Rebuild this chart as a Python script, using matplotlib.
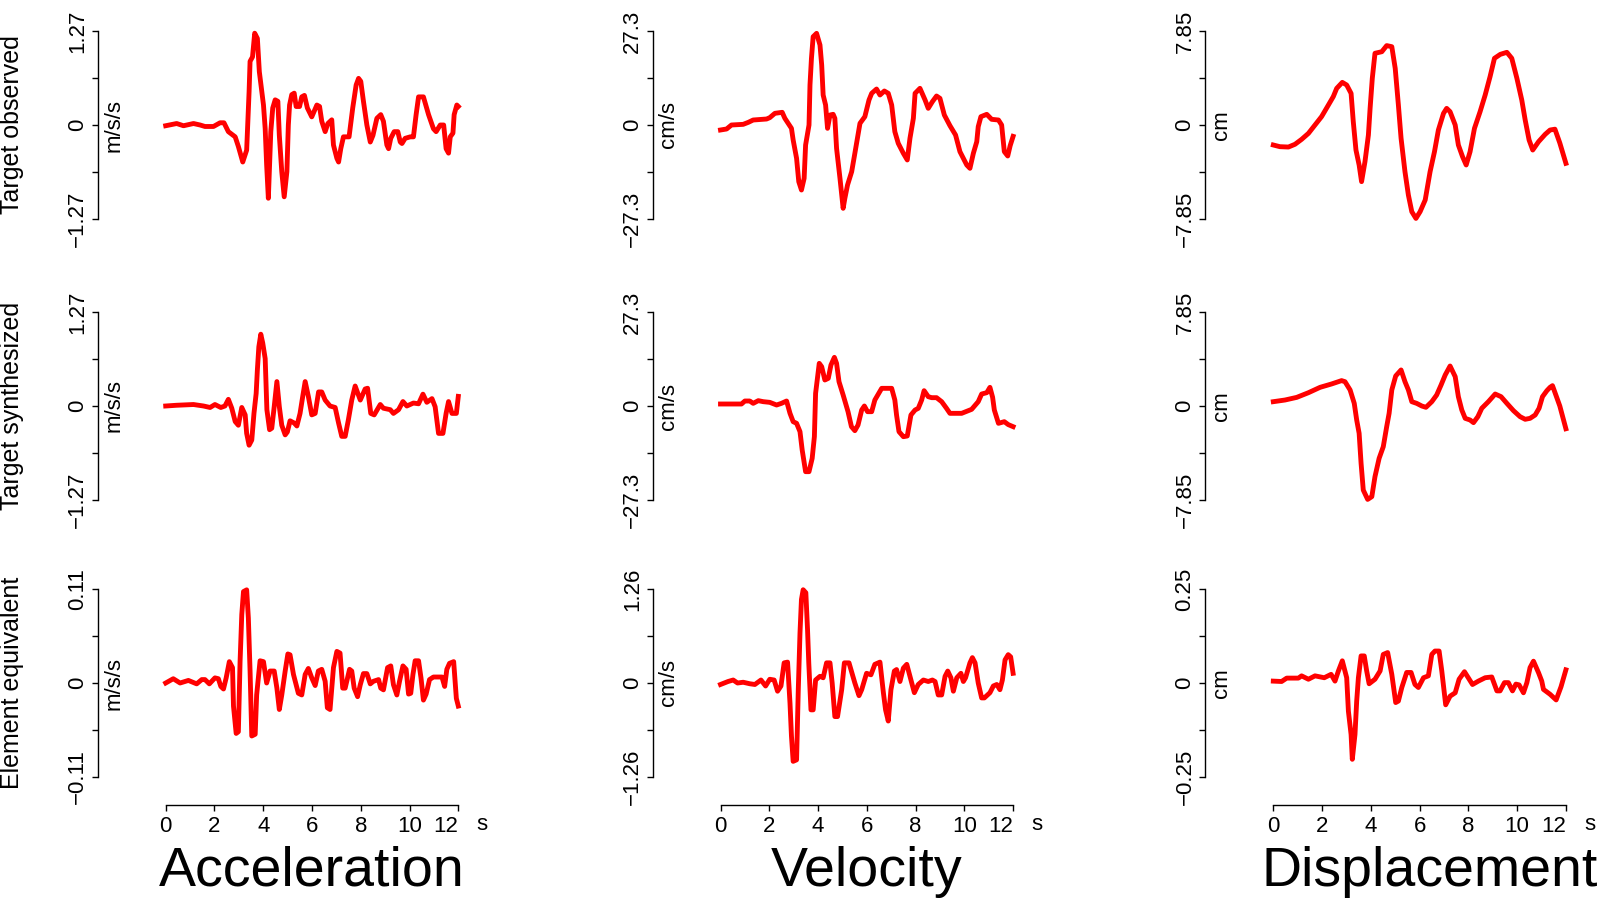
import matplotlib.pyplot as plt
import numpy as np

plt.rcParams['font.family'] = ['Liberation Sans', 'DejaVu Sans']

# traces: (time in s, value in the panel unit)
acc_obs = [(0.0, -0.01), (0.45, 0.02), (0.73, -0.01), (1.14, 0.02), (1.41, 0.0), (1.61, -0.02),
           (1.96, -0.02), (2.23, 0.03), (2.39, 0.03), (2.57, -0.09), (2.85, -0.16), (2.98, -0.29),
           (3.16, -0.50), (3.32, -0.34), (3.42, 0.45), (3.46, 0.86), (3.56, 0.92), (3.65, 1.24),
           (3.76, 1.17), (3.84, 0.72), (4.01, 0.27), (4.08, -0.05), (4.14, -0.54), (4.21, -0.99),
           (4.31, -0.09), (4.39, 0.23), (4.49, 0.34), (4.60, 0.32), (4.66, -0.14), (4.76, -0.63),
           (4.86, -0.97), (4.97, -0.63), (5.03, 0.0), (5.08, 0.27), (5.17, 0.41), (5.27, 0.43),
           (5.35, 0.25), (5.49, 0.25), (5.58, 0.38), (5.69, 0.40), (5.81, 0.23), (5.99, 0.11),
           (6.20, 0.27), (6.31, 0.25), (6.40, 0.05), (6.54, -0.09), (6.65, 0.02), (6.81, 0.07),
           (6.88, -0.27), (7.02, -0.45), (7.09, -0.50), (7.18, -0.32), (7.29, -0.16), (7.52, -0.16),
           (7.67, 0.23), (7.81, 0.54), (7.91, 0.63), (8.00, 0.59), (8.11, 0.32), (8.25, 0.0),
           (8.39, -0.23), (8.50, -0.14), (8.66, 0.09), (8.82, 0.14), (8.93, 0.05), (9.07, -0.27),
           (9.14, -0.32), (9.23, -0.18), (9.37, -0.09), (9.52, -0.09), (9.62, -0.23), (9.69, -0.25),
           (9.82, -0.18), (10.03, -0.16), (10.16, -0.16), (10.27, 0.14), (10.37, 0.38), (10.57, 0.38),
           (10.78, 0.14), (10.98, -0.05), (11.09, -0.09), (11.26, 0.0), (11.40, 0.0), (11.50, -0.32),
           (11.60, -0.38), (11.67, -0.16), (11.78, -0.11), (11.83, 0.14), (11.94, 0.27), (12.0, 0.25)]

vel_obs = [(0.0, -1.45), (0.25, -1.16), (0.45, 0.0), (0.93, 0.19), (1.14, 0.77), (1.34, 1.45),
           (1.89, 1.74), (2.02, 2.13), (2.23, 3.39), (2.53, 3.68), (2.64, 1.94), (2.91, -0.97),
           (2.98, -4.36), (3.12, -9.68), (3.21, -16.46), (3.32, -18.88), (3.43, -15.49), (3.49, -5.81),
           (3.63, 0.0), (3.67, 11.62), (3.73, 19.36), (3.80, 25.65), (3.94, 26.62), (4.08, 23.23),
           (4.15, 17.42), (4.21, 8.71), (4.31, 5.81), (4.39, -0.97), (4.49, 2.90), (4.62, 3.10),
           (4.69, 1.94), (4.76, -6.78), (4.90, -15.49), (5.03, -24.20), (5.10, -21.30), (5.21, -17.42),
           (5.38, -13.55), (5.51, -8.23), (5.72, 0.48), (5.92, 2.42), (6.09, 7.26), (6.20, 9.20),
           (6.40, 10.45), (6.54, 8.71), (6.72, 9.87), (6.88, 9.20), (7.02, 5.81), (7.15, -1.94),
           (7.29, -5.32), (7.50, -8.23), (7.66, -10.16), (7.77, -3.87), (7.91, 1.94), (7.98, 9.20),
           (8.18, 10.65), (8.39, 7.26), (8.52, 4.84), (8.69, 6.78), (8.86, 8.42), (9.00, 7.74),
           (9.18, 2.90), (9.41, -0.19), (9.64, -2.90), (9.82, -7.74), (10.10, -11.62), (10.23, -12.58),
           (10.37, -8.23), (10.51, -4.84), (10.57, -0.48), (10.68, 2.42), (10.92, 3.10), (11.12, 1.65),
           (11.40, 1.45), (11.53, 0.0), (11.64, -7.74), (11.78, -9.0), (11.88, -6.0), (12.0, -3.3)]

disp_obs = [(0.0, -1.67), (0.27, -1.81), (0.62, -1.84), (0.89, -1.61), (1.16, -1.20), (1.44, -0.70),
            (1.71, 0.0), (1.98, 0.70), (2.26, 1.67), (2.46, 2.37), (2.60, 3.06), (2.83, 3.56),
            (3.01, 3.34), (3.19, 2.64), (3.28, 0.28), (3.39, -2.09), (3.52, -3.34), (3.62, -4.73),
            (3.76, -3.06), (3.90, -0.84), (3.97, 1.39), (4.06, 3.90), (4.17, 5.99), (4.45, 6.12),
            (4.65, 6.63), (4.86, 6.54), (5.00, 4.73), (5.13, 1.67), (5.24, -1.11), (5.40, -3.90),
            (5.54, -5.85), (5.68, -7.24), (5.85, -7.80), (6.02, -7.24), (6.23, -6.26), (6.43, -3.90),
            (6.61, -2.23), (6.77, -0.42), (6.98, 0.97), (7.11, 1.39), (7.25, 1.11), (7.46, 0.0),
            (7.59, -1.67), (7.76, -2.64), (7.91, -3.34), (8.07, -2.23), (8.25, -0.28), (8.48, 1.11),
            (8.69, 2.51), (8.89, 4.04), (9.07, 5.57), (9.31, 5.90), (9.58, 6.07), (9.78, 5.57),
            (9.99, 3.90), (10.19, 2.09), (10.33, 0.42), (10.49, -1.25), (10.64, -2.09), (10.88, -1.39),
            (11.15, -0.78), (11.35, -0.42), (11.55, -0.35), (11.75, -1.5), (12.0, -3.2)]

acc_syn = [(0.0, 0.0), (0.45, 0.01), (1.14, 0.02), (1.55, 0.0), (1.82, -0.02), (2.02, 0.02),
           (2.26, -0.02), (2.43, 0.0), (2.57, 0.09), (2.71, -0.03), (2.85, -0.21), (2.98, -0.26),
           (3.12, -0.02), (3.26, -0.12), (3.32, -0.37), (3.42, -0.53), (3.53, -0.46), (3.62, -0.10),
           (3.71, 0.17), (3.76, 0.49), (3.82, 0.80), (3.90, 0.97), (3.98, 0.85), (4.08, 0.64),
           (4.15, -0.05), (4.26, -0.32), (4.35, -0.30), (4.45, -0.01), (4.56, 0.33), (4.66, -0.01),
           (4.76, -0.26), (4.90, -0.39), (4.99, -0.35), (5.10, -0.20), (5.27, -0.23), (5.38, -0.27),
           (5.51, -0.10), (5.62, 0.13), (5.72, 0.33), (5.85, 0.13), (5.99, -0.12), (6.13, -0.10),
           (6.27, 0.19), (6.40, 0.19), (6.54, 0.08), (6.74, 0.0), (6.95, -0.02), (7.09, -0.23),
           (7.22, -0.41), (7.36, -0.41), (7.49, -0.19), (7.63, 0.08), (7.77, 0.27), (7.98, 0.08),
           (8.18, 0.23), (8.28, 0.24), (8.41, -0.10), (8.55, -0.12), (8.80, 0.02), (8.93, -0.03),
           (9.21, -0.05), (9.34, -0.10), (9.55, -0.05), (9.73, 0.06), (9.89, 0.0), (10.16, 0.04),
           (10.37, 0.03), (10.55, 0.16), (10.71, 0.05), (10.92, 0.10), (11.05, -0.01), (11.19, -0.37),
           (11.37, -0.37), (11.50, -0.10), (11.60, 0.06), (11.74, -0.10), (11.92, -0.10), (12.0, 0.13)]

vel_syn = [(0.0, 0.58), (0.86, 0.58), (1.00, 1.45), (1.20, 1.45), (1.34, 0.77), (1.55, 1.55),
           (1.75, 1.26), (2.02, 1.06), (2.30, 0.29), (2.50, 0.77), (2.71, 1.45), (2.85, -2.13),
           (2.98, -4.55), (3.12, -5.03), (3.26, -7.45), (3.35, -12.78), (3.49, -19.07), (3.63, -19.07),
           (3.76, -15.20), (3.85, -8.91), (3.90, 3.68), (3.95, 6.58), (4.05, 12.39), (4.15, 11.42),
           (4.28, 7.55), (4.42, 8.03), (4.53, 11.91), (4.67, 14.13), (4.76, 12.39), (4.86, 7.07),
           (5.03, 3.19), (5.23, -1.65), (5.37, -6.00), (5.51, -7.16), (5.64, -5.52), (5.79, -1.16),
           (5.90, 0.0), (6.03, -1.65), (6.20, -1.65), (6.33, 1.74), (6.61, 5.13), (7.02, 5.13),
           (7.15, 1.74), (7.22, -2.61), (7.32, -7.45), (7.50, -8.91), (7.66, -8.71), (7.81, -2.61),
           (7.98, -1.16), (8.11, -0.68), (8.25, 1.74), (8.35, 4.45), (8.52, 2.71), (8.66, 2.42),
           (8.86, 2.42), (9.07, 1.26), (9.27, -0.68), (9.41, -2.13), (9.89, -2.13), (10.30, -0.97),
           (10.57, 1.26), (10.71, 3.48), (10.92, 3.87), (11.05, 5.42), (11.16, 2.52), (11.23, -1.16),
           (11.40, -5.03), (11.64, -4.55), (11.80, -5.4), (12.0, -6.0)]

disp_syn = [(0.0, 0.36), (0.48, 0.50), (0.96, 0.72), (1.44, 1.11), (1.92, 1.56), (2.39, 1.84),
            (2.80, 2.12), (2.94, 2.03), (3.15, 1.34), (3.32, 0.22), (3.42, -1.17), (3.52, -2.28),
            (3.60, -4.79), (3.69, -7.02), (3.87, -7.80), (4.04, -7.57), (4.17, -5.90), (4.34, -4.37),
            (4.51, -3.40), (4.65, -1.73), (4.75, -0.61), (4.86, 1.34), (5.02, 2.51), (5.24, 3.01),
            (5.40, 2.03), (5.54, 1.34), (5.68, 0.36), (5.88, 0.22), (6.09, 0.0), (6.26, -0.11),
            (6.50, 0.36), (6.70, 0.92), (6.88, 1.75), (7.05, 2.59), (7.25, 3.34), (7.46, 2.45),
            (7.59, 0.78), (7.73, -0.33), (7.87, -1.03), (8.07, -1.17), (8.21, -1.39), (8.39, -0.89),
            (8.55, -0.19), (8.82, 0.36), (9.10, 1.00), (9.34, 0.78), (9.58, 0.22), (9.85, -0.39),
            (10.12, -0.89), (10.33, -1.11), (10.53, -1.03), (10.74, -0.75), (10.90, -0.19),
            (11.04, 0.78), (11.22, 1.28), (11.35, 1.56), (11.45, 1.7), (11.75, 0.0), (12.0, -1.9)]

acc_elem = [(0.0, 0.0), (0.31, 0.005), (0.59, 0.0), (0.93, 0.003), (1.27, -0.001), (1.48, 0.004),
            (1.61, 0.004), (1.79, -0.001), (2.02, 0.006), (2.16, 0.005), (2.26, -0.004), (2.37, -0.007),
            (2.48, 0.006), (2.61, 0.025), (2.74, 0.018), (2.78, -0.027), (2.89, -0.059), (2.98, -0.057),
            (3.05, 0.025), (3.12, 0.080), (3.19, 0.107), (3.32, 0.109), (3.39, 0.076), (3.46, 0.014),
            (3.53, -0.062), (3.67, -0.060), (3.73, -0.014), (3.87, 0.026), (4.01, 0.025), (4.14, 0.0),
            (4.28, 0.014), (4.45, 0.014), (4.56, -0.006), (4.66, -0.031), (4.76, -0.014), (4.90, 0.014),
            (5.01, 0.034), (5.10, 0.033), (5.24, 0.010), (5.44, -0.012), (5.58, -0.014), (5.72, 0.010),
            (5.85, 0.017), (5.99, 0.006), (6.13, -0.003), (6.26, 0.014), (6.40, 0.016), (6.54, 0.002),
            (6.63, -0.029), (6.74, -0.031), (6.88, 0.018), (7.02, 0.037), (7.15, 0.035), (7.26, -0.006),
            (7.36, -0.006), (7.54, 0.016), (7.63, 0.014), (7.73, -0.006), (7.87, -0.016), (7.98, -0.002),
            (8.11, 0.011), (8.25, 0.011), (8.39, -0.001), (8.52, 0.002), (8.73, 0.004), (8.82, -0.006),
            (8.93, -0.008), (9.10, 0.018), (9.23, 0.020), (9.34, -0.002), (9.48, -0.014), (9.59, 0.002),
            (9.73, 0.020), (9.86, 0.016), (9.96, -0.013), (10.05, -0.012), (10.14, 0.010), (10.23, 0.026),
            (10.37, 0.026), (10.47, 0.006), (10.57, -0.020), (10.68, -0.013), (10.82, 0.004),
            (10.98, 0.007), (11.33, 0.007), (11.44, -0.004), (11.53, 0.016), (11.64, 0.023),
            (11.81, 0.025), (11.92, -0.018), (12.0, -0.027)]

vel_elem = [(0.0, -0.02), (0.31, 0.02), (0.52, 0.04), (0.70, 0.0), (0.93, 0.01), (1.20, -0.01),
            (1.41, -0.02), (1.66, 0.04), (1.85, -0.04), (2.02, 0.05), (2.20, 0.04), (2.34, -0.11),
            (2.48, -0.04), (2.61, 0.27), (2.75, 0.28), (2.85, -0.27), (2.91, -0.71), (2.98, -1.05),
            (3.12, -1.03), (3.19, -0.09), (3.26, 0.67), (3.32, 1.12), (3.39, 1.25), (3.50, 1.21),
            (3.57, 0.71), (3.62, 0.27), (3.71, -0.36), (3.80, -0.36), (3.90, 0.04), (4.08, 0.09),
            (4.21, 0.07), (4.35, 0.27), (4.49, 0.27), (4.58, 0.0), (4.69, -0.45), (4.80, -0.45),
            (4.97, -0.09), (5.08, 0.27), (5.27, 0.27), (5.51, 0.0), (5.68, -0.17), (5.79, -0.09),
            (5.99, 0.13), (6.17, 0.11), (6.33, 0.25), (6.54, 0.28), (6.68, -0.13), (6.77, -0.36),
            (6.88, -0.51), (6.99, -0.09), (7.13, 0.16), (7.22, 0.18), (7.36, 0.02), (7.50, 0.20),
            (7.64, 0.25), (7.77, 0.09), (7.95, -0.13), (8.11, -0.02), (8.32, 0.04), (8.52, 0.02),
            (8.69, 0.04), (8.80, 0.02), (8.93, -0.16), (9.07, -0.16), (9.21, 0.09), (9.32, 0.16),
            (9.45, 0.07), (9.55, -0.11), (9.69, 0.07), (9.86, 0.13), (9.96, 0.02), (10.05, 0.07),
            (10.23, 0.27), (10.33, 0.34), (10.44, 0.27), (10.57, 0.0), (10.71, -0.20), (10.82, -0.20),
            (11.05, -0.13), (11.19, -0.04), (11.33, -0.02), (11.46, -0.09), (11.56, 0.04), (11.67, 0.31),
            (11.80, 0.38), (11.90, 0.35), (12.0, 0.13)]

disp_elem = [(0.0, 0.005), (0.34, 0.004), (0.55, 0.013), (1.03, 0.013), (1.16, 0.019), (1.44, 0.010),
             (1.71, 0.019), (2.09, 0.014), (2.37, 0.023), (2.53, 0.005), (2.67, 0.032), (2.83, 0.059),
             (3.01, 0.014), (3.08, -0.075), (3.19, -0.137), (3.24, -0.203), (3.35, -0.137), (3.42, -0.048),
             (3.49, 0.014), (3.60, 0.072), (3.73, 0.072), (3.83, 0.032), (3.93, -0.002), (4.17, 0.010),
             (4.38, 0.032), (4.51, 0.076), (4.69, 0.081), (4.86, 0.023), (5.02, -0.052), (5.13, -0.048),
             (5.27, -0.012), (5.47, 0.028), (5.65, 0.028), (5.81, -0.004), (5.95, -0.012), (6.16, 0.014),
             (6.36, 0.019), (6.50, 0.076), (6.63, 0.085), (6.80, 0.085), (6.91, 0.032), (7.07, -0.058),
             (7.25, -0.035), (7.46, -0.026), (7.62, 0.010), (7.84, 0.030), (8.17, -0.004), (8.41, 0.005),
             (8.69, 0.014), (8.96, 0.016), (9.17, -0.021), (9.30, -0.021), (9.48, 0.001), (9.64, 0.001),
             (9.81, -0.021), (9.95, -0.003), (10.08, -0.005), (10.26, -0.026), (10.40, 0.001),
             (10.53, 0.041), (10.67, 0.058), (10.88, 0.027), (11.01, 0.005), (11.08, -0.017),
             (11.35, -0.030), (11.60, -0.045), (11.80, -0.01), (12.0, 0.035)]

row_names = ["Target observed", "Target synthesized", "Element equivalent"]
col_names = ["Acceleration", "Velocity", "Displacement"]
units = ["m/s/s", "cm/s", "cm"]
# half range of each y axis (rows x columns) and how it is printed
y_max = [[1.27, 27.3, 7.85], [1.27, 27.3, 7.85], [0.11, 1.26, 0.25]]
y_max_txt = [["1.27", "27.3", "7.85"], ["1.27", "27.3", "7.85"], ["0.11", "1.26", "0.25"]]
x_ticks = [0, 2, 4, 6, 8, 10, 12]

traces = [[acc_obs, vel_obs, disp_obs],
          [acc_syn, vel_syn, disp_syn],
          [acc_elem, vel_elem, disp_elem]]

W, H = 1600, 900
px = 72 / 100  # points per pixel at dpi 100

# panel geometry in pixels
col_x0 = [165.7, 720.5, 1273.3]
col_w = 292.6
row_zero = [125, 406, 683]
half_h = 94
spine_off = 68
title_shift = [0, 0, 10]

fig = plt.figure(figsize=(16, 9), dpi=100)

for r in range(3):
    for c in range(3):
        ax = fig.add_axes([col_x0[c] / W, 1 - (row_zero[r] + half_h) / H,
                           col_w / W, 2 * half_h / H])
        ax.patch.set_visible(False)
        t, v = np.array(traces[r][c]).T
        ax.plot(t, v, color='#ff0000', lw=3.5, clip_on=False, solid_joinstyle='round')

        m = y_max[r][c]
        ax.set_xlim(0, 12)
        ax.set_ylim(-m, m)
        for s in ['top', 'right']:
            ax.spines[s].set_visible(False)
        ax.spines['left'].set_position(('outward', spine_off * px))
        ax.spines['left'].set_linewidth(1.0)

        ax.set_yticks([-m, 0, m])
        ax.set_yticklabels(['\u2212' + y_max_txt[r][c], '0', y_max_txt[r][c]],
                           rotation=90, va='center')
        ax.set_yticks([-m / 2, m / 2], minor=True)
        ax.tick_params(axis='y', which='both', direction='out', length=4.5, width=1.0,
                       labelsize=16, pad=2.5)

        ax.annotate(units[c], xy=(0, 0), xycoords=('axes fraction', 'data'),
                    xytext=(-52 * px, 0), textcoords='offset points',
                    rotation=90, ha='center', va='center', fontsize=16)

        if r == 2:
            ax.spines['bottom'].set_position(('outward', 28 * px))
            ax.spines['bottom'].set_linewidth(1.0)
            ax.set_xticks(x_ticks)
            ax.set_xticklabels([str(x) for x in x_ticks])
            ax.tick_params(axis='x', direction='out', length=4, width=1.0,
                           labelsize=16, pad=4)
            ax.get_xticklabels()[-1].set_ha('right')
            fig.text((col_x0[c] + col_w + 24) / W, 1 - 830 / H, 's',
                     ha='center', va='baseline', fontsize=16)
            fig.text((col_x0[c] + col_w / 2 + title_shift[c]) / W, 1 - 886 / H, col_names[c],
                     ha='center', va='baseline', fontsize=40)
        else:
            ax.spines['bottom'].set_visible(False)
            ax.set_xticks([])

    fig.text(12 / W, 1 - row_zero[r] / H, row_names[r], rotation=90,
             ha='center', va='center', fontsize=18)

fig.savefig('out.png', dpi=100)
